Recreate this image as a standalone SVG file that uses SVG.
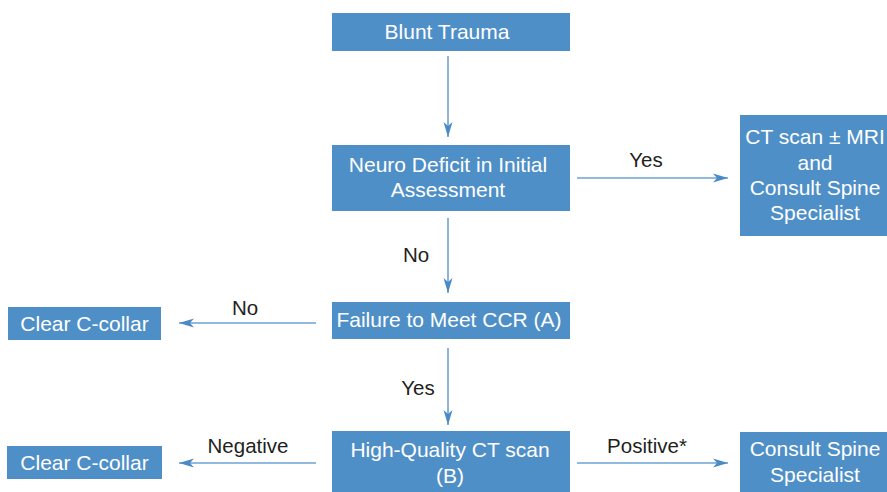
<svg xmlns="http://www.w3.org/2000/svg" width="887" height="492" viewBox="0 0 887 492">
  <style>
    .box { fill: #4f8fc7; }
    .bt { fill: #ffffff; font-family: "Liberation Sans", Arial, sans-serif; font-size: 21px; text-anchor: middle; }
    .lbl { fill: #231f20; font-family: "Liberation Sans", Arial, sans-serif; font-size: 20.5px; text-anchor: middle; }
    .edge { stroke: #6ea3d3; stroke-width: 1.6; fill: none; marker-end: url(#head); }
  </style>
  <defs>
    <marker id="head" markerUnits="userSpaceOnUse" markerWidth="16" markerHeight="10" viewBox="0 -5 16 10" refX="15" refY="0" orient="auto">
      <path d="M0,-4.5 L15,0 L0,4.5 L4,0 z" fill="#4a8bc5"/>
    </marker>
  </defs>
  <rect width="887" height="492" fill="#ffffff"/>

  <g id="connectors">
    <path class="edge" d="M448,56 V137"/>
    <path class="edge" d="M448,218 V293"/>
    <path class="edge" d="M448,348 V425"/>
    <path class="edge" d="M577,178 H728"/>
    <path class="edge" d="M316,323 H179"/>
    <path class="edge" d="M316,463 H179"/>
    <path class="edge" d="M577,463 H728"/>
  </g>

  <g id="labels">
    <text class="lbl" x="646" y="167">Yes</text>
    <text class="lbl" x="416" y="262">No</text>
    <text class="lbl" x="245" y="315">No</text>
    <text class="lbl" x="418" y="395">Yes</text>
    <text class="lbl" x="248" y="453">Negative</text>
    <text class="lbl" x="647" y="453">Positive*</text>
  </g>

  <g id="blunt-trauma">
    <rect class="box" x="332" y="13" width="238" height="38"/>
    <text class="bt" x="447" y="38.5">Blunt Trauma</text>
  </g>

  <g id="neuro-deficit">
    <rect class="box" x="332" y="145" width="238" height="66"/>
    <text class="bt" x="448" y="171.5">Neuro Deficit in Initial</text>
    <text class="bt" x="448" y="196.5">Assessment</text>
  </g>

  <g id="ct-mri-consult">
    <rect class="box" x="740" y="115" width="147" height="121"/>
    <text class="bt" x="815" y="144">CT scan ± MRI</text>
    <text class="bt" x="815" y="170">and</text>
    <text class="bt" x="815" y="195">Consult Spine</text>
    <text class="bt" x="815" y="220">Specialist</text>
  </g>

  <g id="failure-ccr">
    <rect class="box" x="332" y="302" width="238" height="37"/>
    <text class="bt" x="449" y="327">Failure to Meet CCR (A)</text>
  </g>

  <g id="clear-collar-1">
    <rect class="box" x="8" y="307" width="153" height="33"/>
    <text class="bt" x="84.5" y="330.5">Clear C-collar</text>
  </g>

  <g id="high-quality-ct">
    <rect class="box" x="332" y="431" width="238" height="61"/>
    <text class="bt" x="450" y="457">High-Quality CT scan</text>
    <text class="bt" x="450" y="483">(B)</text>
  </g>

  <g id="clear-collar-2">
    <rect class="box" x="7" y="446" width="155" height="33"/>
    <text class="bt" x="84.5" y="469.5">Clear C-collar</text>
  </g>

  <g id="consult-spine">
    <rect class="box" x="740" y="432" width="147" height="60"/>
    <text class="bt" x="815" y="456">Consult Spine</text>
    <text class="bt" x="815" y="482">Specialist</text>
  </g>
</svg>
